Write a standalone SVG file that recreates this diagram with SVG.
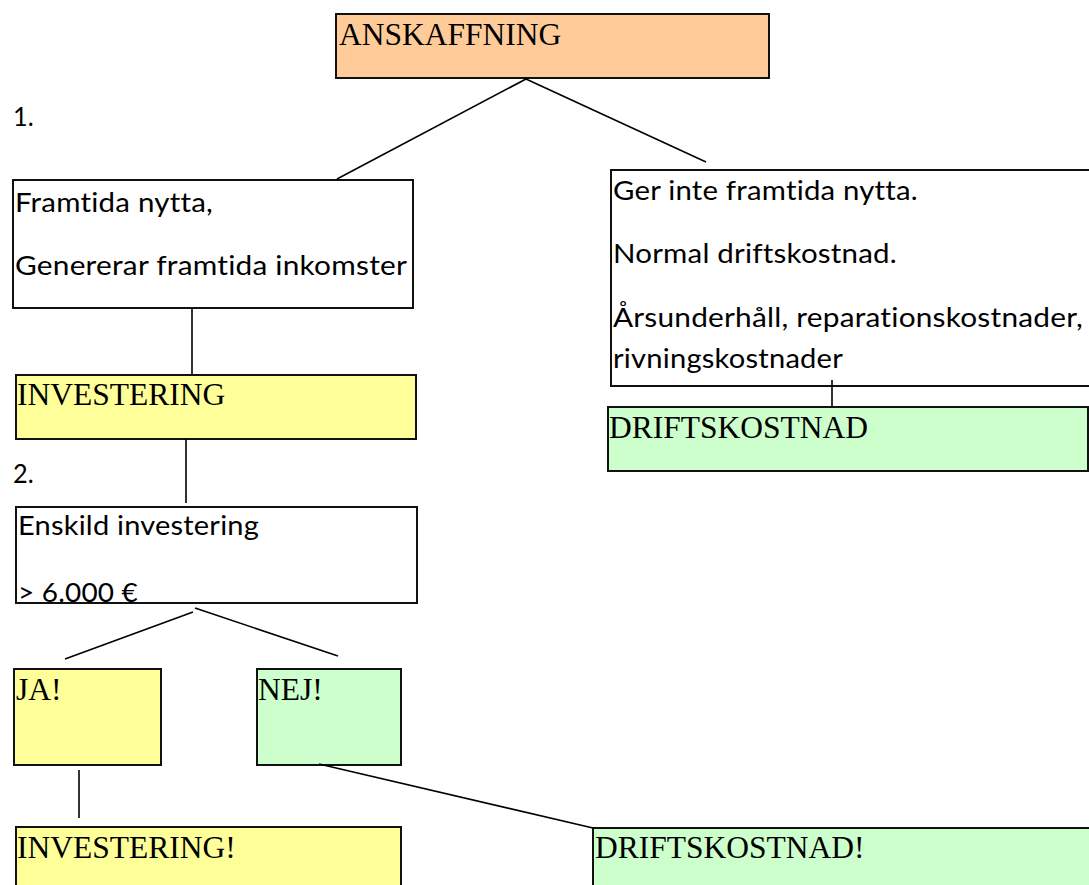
<svg xmlns="http://www.w3.org/2000/svg" width="1089" height="885" viewBox="0 0 1089 885">
<style>
.box{stroke:#111;stroke-width:2}
.w{fill:#fff}
.o{fill:#FFCC99}
.y{fill:#FFFF99}
.g{fill:#CCFFCC}
.ser{font-family:"Liberation Serif","Times New Roman",serif;font-size:31.5px;fill:#000}
.san{font-family:Lato,"Liberation Sans",sans-serif;font-size:27.5px;fill:#000;font-variant-ligatures:none;font-feature-settings:"liga" 0,"clig" 0,"calt" 0,"dlig" 0;letter-spacing:0.2px}
.con line{stroke:#000;stroke-width:1.6}
</style>
<rect width="1089" height="885" fill="#fff"/>
<g id="labels">
<text class="san" x="13" y="126" textLength="21" lengthAdjust="spacingAndGlyphs">1.</text>
<text class="san" x="13" y="483" textLength="21" lengthAdjust="spacingAndGlyphs">2.</text>
</g>
<g id="n-anskaffning">
<rect class="box o" x="336" y="14" width="433" height="64"/>
<text class="ser" x="339" y="45">ANSKAFFNING</text>
</g>
<g id="n-framtida">
<rect class="box w" x="13" y="180" width="400" height="128"/>
<text class="san" x="15" y="212" textLength="198" lengthAdjust="spacingAndGlyphs">Framtida nytta,</text>
<text class="san" x="15" y="275" textLength="392" lengthAdjust="spacingAndGlyphs">Genererar framtida inkomster</text>
</g>
<g id="n-investering">
<rect class="box y" x="16" y="375" width="400" height="64"/>
<text class="ser" x="17" y="405">INVESTERING</text>
</g>
<g id="n-gerinte">
<rect class="box w" x="611" y="170" width="490" height="216"/>
<text class="san" x="613" y="200" textLength="305" lengthAdjust="spacingAndGlyphs">Ger inte framtida nytta.</text>
<text class="san" x="613" y="263" textLength="284" lengthAdjust="spacingAndGlyphs">Normal driftskostnad.</text>
<text class="san" x="613" y="327" textLength="470" lengthAdjust="spacingAndGlyphs">Årsunderhåll, reparationskostnader,</text>
<text class="san" x="613" y="368" textLength="230" lengthAdjust="spacingAndGlyphs">rivningskostnader</text>
</g>
<g id="n-driftskostnad">
<rect class="box g" x="608" y="407" width="480" height="64"/>
<text class="ser" x="609" y="438">DRIFTSKOSTNAD</text>
</g>
<g id="n-enskild">
<rect class="box w" x="16" y="507" width="401" height="96"/>
<text class="san" x="18" y="535" textLength="241" lengthAdjust="spacingAndGlyphs">Enskild investering</text>
<text class="san" x="18" y="602" textLength="120" lengthAdjust="spacingAndGlyphs">&gt; 6.000 €</text>
</g>
<g id="n-ja">
<rect class="box y" x="14" y="669" width="147" height="96"/>
<text class="ser" x="16" y="700">JA!</text>
</g>
<g id="n-nej">
<rect class="box g" x="257" y="669" width="144" height="96"/>
<text class="ser" x="258" y="700">NEJ!</text>
</g>
<g id="n-investering2">
<rect class="box y" x="16" y="827" width="385" height="70"/>
<text class="ser" x="17" y="858">INVESTERING!</text>
</g>
<g id="n-driftskostnad2">
<rect class="box g" x="593" y="828" width="510" height="70"/>
<text class="ser" x="595" y="858">DRIFTSKOSTNAD!</text>
</g>
<g id="connectors" class="con">
<line x1="526" y1="79" x2="337" y2="179"/>
<line x1="526" y1="79" x2="706" y2="162"/>
<line x1="192" y1="308" x2="192" y2="374"/>
<line x1="832" y1="380" x2="832" y2="407"/>
<line x1="186" y1="439" x2="186" y2="503"/>
<line x1="193" y1="612" x2="65" y2="659"/>
<line x1="195" y1="608" x2="338" y2="656"/>
<line x1="79" y1="770" x2="79" y2="818"/>
<line x1="319" y1="764" x2="593" y2="828"/>
</g>
</svg>
